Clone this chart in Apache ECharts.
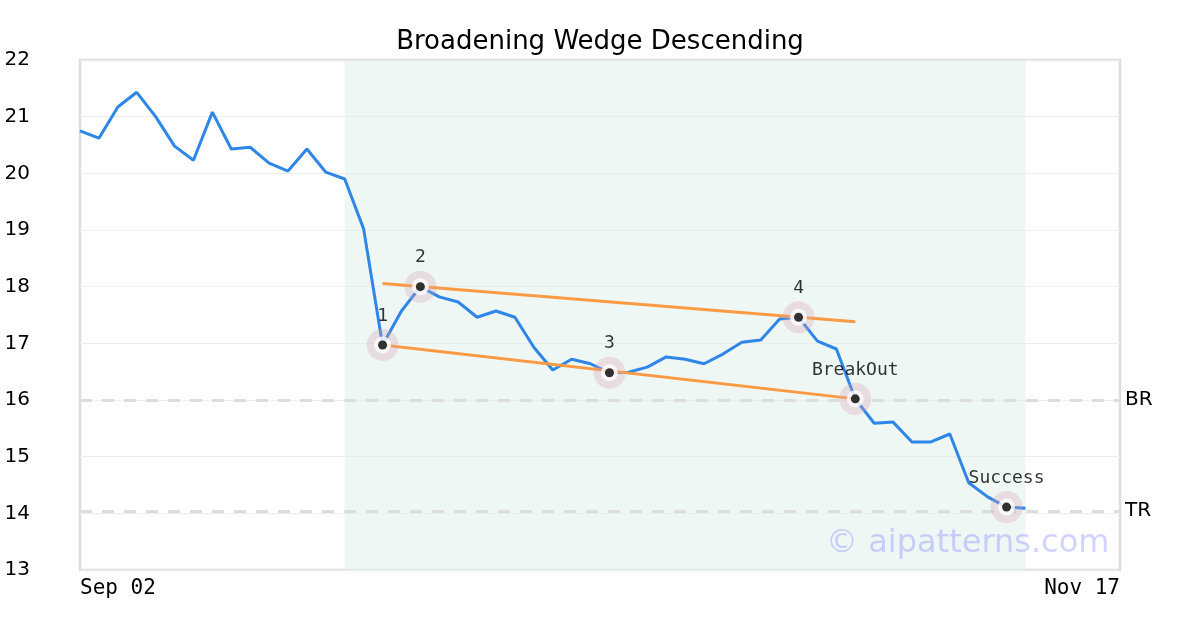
<!DOCTYPE html>
<html>
<head>
<meta charset="utf-8">
<script src="https://cdn.jsdelivr.net/npm/echarts@6/dist/echarts.min.js"></script>
<style>html,body{margin:0;padding:0;background:#fff}#c{width:1200px;height:630px}</style>
</head>
<body>
<div id="c"></div>
<script>
const title = 'Broadening Wedge Descending';
const tickLabels = {0: 'Sep 02', 55: 'Nov 17'};
const axisMaxIndex = 55;
const prices = [20.75, 20.62, 21.17, 21.43, 21.0, 20.48, 20.23, 21.08, 20.43, 20.46,
  20.18, 20.04, 20.43, 20.02, 19.9, 19.02, 16.97, 17.57, 18.0, 17.82,
  17.73, 17.46, 17.57, 17.46, 16.93, 16.53, 16.72, 16.64, 16.48, 16.49,
  16.58, 16.76, 16.72, 16.64, 16.81, 17.02, 17.06, 17.43, 17.46, 17.04,
  16.9, 16.02, 15.59, 15.61, 15.26, 15.26, 15.4, 14.54, 14.29, 14.11, 14.09];
const pivotIndex = [16, 18, 28, 38, 41, 49];
const pivotLabels = ['1', '2', '3', '4', 'BreakOut', 'Success'];
const upperLine = [[16, 18.054], [41, 17.379]];
const lowerLine = [[16, 16.97], [41, 16.02]];
const patternRange = [14, 50];
const levels = [{name: 'BR', value: 16.0}, {name: 'TR', value: 14.04}];

const lineData = prices.map((v, i) => [i, v]);
const pivotData = pivotIndex.map((idx, k) => ({value: [idx, prices[idx]], name: pivotLabels[k]}));

const chart = echarts.init(document.getElementById('c'));
chart.setOption({
  animation: false,
  backgroundColor: '#fff',
  title: {text: title, left: 'center', top: 24,
    textStyle: {fontFamily: 'DejaVu Sans', fontSize: 26, fontWeight: 'normal', color: '#000'}},
  grid: {left: 80, right: 80, top: 60, bottom: 60, show: true, borderColor: '#ddd', borderWidth: 2.5, backgroundColor: 'transparent'},
  xAxis: {type: 'value', min: 0, max: axisMaxIndex, interval: axisMaxIndex,
    axisLine: {show: false}, axisTick: {show: false}, splitLine: {show: false},
    axisLabel: {formatter: v => tickLabels[v] || '', fontFamily: 'DejaVu Sans Mono', fontSize: 21, color: '#000', margin: 8,
      alignMinLabel: 'left', alignMaxLabel: 'right'}},
  yAxis: {type: 'value', min: 13, max: 22, interval: 1,
    axisLine: {show: false}, axisTick: {show: false},
    splitLine: {lineStyle: {color: '#eee', width: 1}},
    axisLabel: {fontFamily: 'DejaVu Sans', fontSize: 20, color: '#000', margin: 50, padding: [4, 0, 0, 0]}},
  graphic: [{type: 'text', left: 826, top: 528, z: 100,
    style: {text: '© aipatterns.com', font: '32px DejaVu Sans', fill: 'rgba(110,110,255,0.3)'}}],
  series: [
    {type: 'line', data: lineData, showSymbol: false, symbol: 'none', z: 3,
      lineStyle: {color: '#2e86e8', width: 3}, itemStyle: {color: '#2e86e8'},
      markArea: {silent: true, itemStyle: {color: 'rgba(222,240,234,0.5)'},
        data: [[{xAxis: patternRange[0]}, {xAxis: patternRange[1]}]]},
      markLine: {silent: true, symbol: 'none', z: 2,
        lineStyle: {color: '#ddd', type: [12, 10], width: 3},
        label: {position: 'end', formatter: p => p.name, fontFamily: 'DejaVu Sans', fontSize: 20, color: '#000', distance: 5},
        data: levels.map(l => ({name: l.name, yAxis: l.value}))}},
    {type: 'line', data: upperLine, symbol: 'none', z: 4, lineStyle: {color: '#fb9a42', width: 3}},
    {type: 'line', data: lowerLine, symbol: 'none', z: 4, lineStyle: {color: '#fb9a42', width: 3}},
    {type: 'scatter', data: pivotData, symbolSize: 32, z: 5, itemStyle: {color: 'rgba(215,160,175,0.38)'}},
    {type: 'scatter', data: pivotData, symbolSize: 17, z: 6, itemStyle: {color: '#fff'}},
    {type: 'scatter', data: pivotData, symbolSize: 9, z: 7, itemStyle: {color: '#000'},
      label: {show: true, position: 'inside', offset: [0, -29], formatter: p => p.name,
        fontFamily: 'DejaVu Sans Mono', fontSize: 18, color: '#000'}}
  ]
});
</script>
</body>
</html>
